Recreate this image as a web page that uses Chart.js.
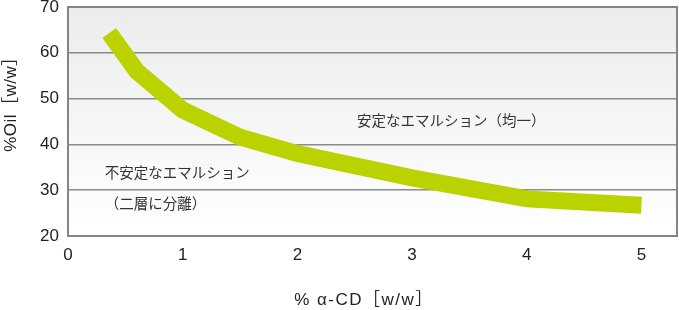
<!DOCTYPE html>
<html>
<head>
<meta charset="utf-8">
<script src="https://cdn.jsdelivr.net/npm/chart.js@4/dist/chart.umd.min.js"></script>
<style>
  html, body { margin: 0; padding: 0; background: #fff; }
  #wrap { width: 679px; height: 310px; }
</style>
</head>
<body>
<div id="wrap"><canvas id="oilChart" width="679" height="310"></canvas></div>
<script>
// α-CD濃度とオイル濃度の境界線
const cdPercent = [0.36, 0.6, 1.0, 1.5, 2.0, 3.0, 4.0, 5.0];
const oilPercent = [64.3, 56.0, 47.5, 41.6, 38.0, 32.7, 28.1, 26.7];
const xTicks = [0, 1, 2, 3, 4, 5];
const yTicks = [20, 30, 40, 50, 60, 70];

const xTitle = "% α-CD［w/w］";
const yTitle = "%Oil［w/w］";
const stableLabel = "安定なエマルション（均一）";
const unstableLabel = ["不安定なエマルション", "（二層に分離）"];

const latin = "'Liberation Sans', Arial, 'Noto Sans CJK JP', sans-serif";
const jp = "'Noto Sans CJK JP', sans-serif";

// 背景グラデーションと枠
const plotFrame = {
  id: "plotFrame",
  beforeDraw(chart) {
    const { ctx, chartArea: a } = chart;
    const g = ctx.createLinearGradient(0, a.top, 0, a.bottom);
    g.addColorStop(0, "#ebecec");
    g.addColorStop(1, "#ffffff");
    ctx.save();
    ctx.fillStyle = g;
    ctx.fillRect(a.left, a.top, a.right - a.left, a.bottom - a.top);
    ctx.restore();
  },
  beforeDatasetsDraw(chart) {
    const { ctx, chartArea: a } = chart;
    ctx.save();
    ctx.strokeStyle = "#858585";
    ctx.lineWidth = 2;
    ctx.strokeRect(a.left, a.top, a.right - a.left, a.bottom - a.top);
    ctx.restore();
  },
  afterDraw(chart) {
    const { ctx, scales: { x, y } } = chart;
    ctx.save();
    ctx.fillStyle = "#333";
    ctx.textBaseline = "middle";
    ctx.font = "14.5px " + jp;
    ctx.fillText(stableLabel, x.getPixelForValue(2.52), y.getPixelForValue(45.3));
    ctx.fillText(unstableLabel[0], x.getPixelForValue(0.32), y.getPixelForValue(33.8));
    ctx.fillText(unstableLabel[1], x.getPixelForValue(0.32), y.getPixelForValue(27.2));

    ctx.fillStyle = "#222";
    ctx.textAlign = "center";
    ctx.font = "17px " + latin;
    ctx.letterSpacing = "1.5px";
    ctx.fillText(xTitle, 364, 300);
    ctx.letterSpacing = "0.5px";
    ctx.translate(11, 100);
    ctx.rotate(-Math.PI / 2);
    ctx.fillText(yTitle, 0, 0);
    ctx.restore();
  }
};

new Chart(document.getElementById("oilChart"), {
  type: "line",
  data: {
    datasets: [{
      data: cdPercent.map((v, i) => ({ x: v, y: oilPercent[i] })),
      borderColor: "#bad300",
      borderWidth: 17,
      borderCapStyle: "butt",
      borderJoinStyle: "miter",
      pointRadius: 0,
      tension: 0,
      fill: false
    }]
  },
  options: {
    responsive: false,
    animation: false,
    layout: { padding: { top: 0, right: 2, left: 0, bottom: 0 } },
    plugins: { legend: { display: false }, tooltip: { enabled: false } },
    scales: {
      x: {
        type: "linear",
        min: 0,
        max: 5.31,
        afterBuildTicks: s => { s.ticks = xTicks.map(v => ({ value: v })); },
        afterFit: s => { s.height = 74; },
        grid: { display: false },
        border: { display: false },
        ticks: { color: "#222", padding: 1, font: { family: latin, size: 17 } }
      },
      y: {
        min: 20,
        max: 70,
        afterBuildTicks: s => { s.ticks = yTicks.map(v => ({ value: v })); },
        afterFit: s => { s.width = 68; s.paddingTop = 7; s.paddingBottom = 0; },
        grid: { color: "#8a8a8a", lineWidth: 1.5, drawTicks: false },
        border: { display: false },
        ticks: { color: "#222", padding: 9, font: { family: latin, size: 17 } }
      }
    }
  },
  plugins: [plotFrame]
});
</script>
</body>
</html>
